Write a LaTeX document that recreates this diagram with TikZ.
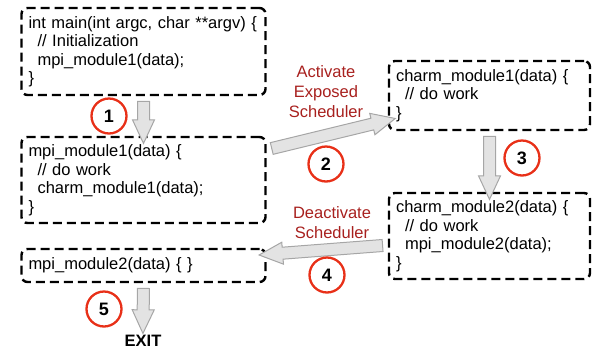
\documentclass[tikz,border=0pt]{standalone}
\usepackage{fontspec}
\setmainfont{Liberation Sans}
\usetikzlibrary{shapes.arrows,calc}

\definecolor{stepred}{RGB}{232,48,24}
\definecolor{labelred}{RGB}{168,32,30}

\newcommand{\blockarrow}[2]{%
  \path let \p1=($(#2)-(#1)$), \n1={veclen(\x1,\y1)}, \n2={atan2(\y1,\x1)} in
    node[flowarrow, minimum height=\n1, rotate=\n2] at ($(#1)!0.5!(#2)$) {};}

\begin{document}
\begin{tikzpicture}[x=1pt,y=-1pt,
    codebox/.style={draw, dash pattern=on 9pt off 5pt, line width=2.4pt, rounded corners=6pt,
      align=left, inner xsep=7pt, inner ysep=0pt, outer sep=0pt,
      font=\fontsize{16.5}{18.5}\selectfont},
    stepnum/.style={circle, draw=stepred, line width=2.3pt, minimum size=35pt, inner sep=0pt,
      font=\bfseries\fontsize{18}{18}\selectfont},
    steplabel/.style={text=labelred, align=center, font=\fontsize{16.5}{20}\selectfont},
    flowarrow/.style={single arrow, fill=gray!22, draw=gray!70, line width=1pt,
      inner sep=5.5pt, single arrow head extend=5pt, single arrow tip angle=50, outer sep=0pt}]
  \useasboundingbox (0,0) rectangle (595,349);

  \node[codebox, text width=230pt, minimum height=87pt] (mainbox) at (143.5,51.5)
    {int main(int argc, char **argv) \{\\
     \hspace*{0.55em}// Initialization\\
     \hspace*{0.55em}mpi\_module1(data);\\
     \}};
  \node[codebox, text width=230pt, minimum height=86pt] (mpione) at (143.5,180)
    {mpi\_module1(data) \{\\
     \hspace*{0.55em}// do work\\
     \hspace*{0.55em}charm\_module1(data);\\
     \}};
  \node[codebox, text width=187pt, minimum height=69pt] (charmone) at (489.5,95.5)
    {charm\_module1(data) \{\\
     \hspace*{0.55em}// do work\\
     \}};
  \node[codebox, text width=187pt, minimum height=86pt] (charmtwo) at (489.5,236)
    {charm\_module2(data) \{\\
     \hspace*{0.55em}// do work\\
     \hspace*{0.55em}mpi\_module2(data);\\
     \}};
  \node[codebox, text width=230pt, minimum height=33pt] (mpitwo) at (143.5,265.5)
    {mpi\_module2(data) \{ \}};
  \node[font=\bfseries\fontsize{16.5}{16.5}\selectfont, inner sep=0pt] (exit) at (143,340.5) {EXIT};
  \coordinate (exitin) at (143,327);

  \blockarrow{mainbox.south}{mpione.north}
  \blockarrow{[yshift=-13pt]mpione.north east}{[yshift=10pt]charmone.south west}
  \blockarrow{charmone.south}{charmtwo.north}
  \blockarrow{[yshift=-9pt]charmtwo.west}{[yshift=11pt]mpitwo.east}
  \blockarrow{mpitwo.south}{exitin}

  \node[stepnum] (one) at (109,116) {1};
  \node[stepnum] (two) at (326,164) {2};
  \node[stepnum] (three) at (522,158) {3};
  \node[stepnum] (four) at (327,275) {4};
  \node[stepnum] (five) at (104,309) {5};

  \node[steplabel] (activate) at (326,92) {Activate\\Exposed\\Scheduler};
  \node[steplabel] (deactivate) at (332,223) {Deactivate\\Scheduler};
\end{tikzpicture}
\end{document}
